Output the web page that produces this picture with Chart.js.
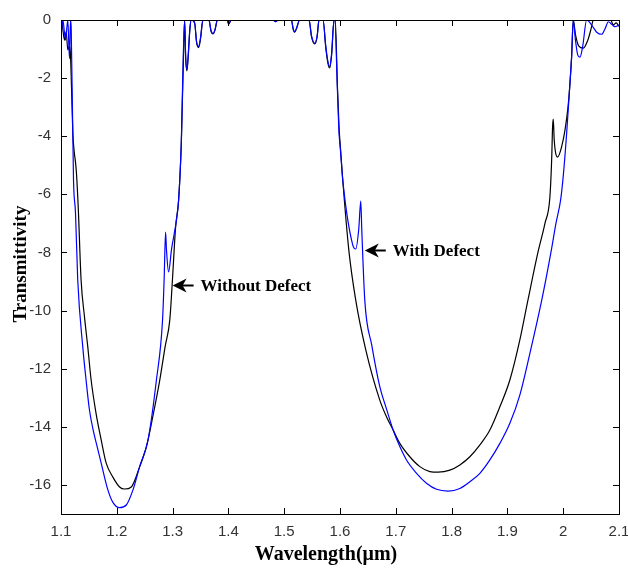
<!DOCTYPE html>
<html>
<head>
<meta charset="utf-8">
<script src="https://cdn.jsdelivr.net/npm/chart.js@4"></script>
<style>
  html, body { margin: 0; background: #fff; }
  #wrap { width: 628px; height: 570px; position: relative; }
</style>
</head>
<body>
<div id="wrap"><canvas id="chart"></canvas></div>
<script>
// Transmittivity spectra, [wavelength (um), transmittivity]
const withoutDefect = [
  [1.100,0],[1.1025,-0.2],[1.1063,-0.69],[1.1093,-0.4],[1.1122,-1.03],[1.1152,-0.9],[1.117,-1.2],
  [1.1188,-2.3],[1.1212,-3.9],[1.1235,-4.5],[1.126,-4.9],[1.1278,-5.3],[1.131,-6.5],[1.136,-8.95],
  [1.142,-10.2],[1.148,-11.25],[1.154,-12.39],[1.1625,-13.5],[1.172,-14.45],[1.181,-15.25],
  [1.193,-15.73],[1.205,-16.07],[1.214,-16.14],[1.226,-16.07],[1.241,-15.37],[1.253,-14.69],
  [1.265,-13.6],[1.277,-12.39],[1.287,-11.2],[1.295,-10.32],[1.300,-8.85],[1.3054,-7.12],
  [1.3108,-6.19],[1.3156,-4.23],[1.3175,-2.8],[1.3195,-1.3],[1.3215,0],[1.3235,-1.35],
  [1.3257,-1.75],[1.328,-1.25],[1.331,-0.3],[1.3335,0],[1.3395,-0.1],[1.343,-0.78],[1.3466,-0.95],
  [1.350,-0.65],[1.3544,0],[1.3651,0],[1.369,-0.4],[1.3723,-0.48],[1.376,-0.35],[1.3802,0],
  [1.3981,0],[1.4005,-0.14],[1.405,0],[1.480,0],[1.4848,-0.06],[1.489,0],[1.5129,0],[1.516,-0.3],
  [1.5188,-0.42],[1.522,-0.3],[1.5278,0],[1.5445,0],[1.549,-0.58],[1.5547,-0.82],[1.559,-0.58],
  [1.5624,0],[1.5696,0],[1.5745,-0.95],[1.5785,-1.5],[1.5816,-1.65],[1.585,-1.2],[1.5893,0],
  [1.5915,0],[1.5954,-2.3],[1.5983,-3.7],[1.6008,-4.4],[1.6049,-5.5],[1.6157,-7.9],[1.6282,-9.64],
  [1.6462,-11.35],[1.6713,-13.08],[1.6833,-13.65],[1.6952,-14.11],[1.7072,-14.57],[1.7251,-15.03],
  [1.7431,-15.37],[1.761,-15.54],[1.7759,-15.56],[1.7968,-15.49],[1.8148,-15.31],[1.8327,-15.03],
  [1.8507,-14.62],[1.8686,-14.11],[1.8865,-13.31],[1.9044,-12.39],[1.9224,-11.0],[1.9368,-9.64],
  [1.9547,-8.0],[1.9673,-7.0],[1.9762,-6.08],[1.9793,-4.82],[1.981,-3.67],[1.9822,-3.41],
  [1.9839,-4.13],[1.990,-4.72],[1.9972,-4.36],[2.0032,-3.79],[2.0086,-3.0],[2.0121,-2.18],
  [2.0151,-1.26],[2.018,0],[2.022,-0.5],[2.028,-0.9],[2.036,-0.97],[2.044,-0.7],[2.050,-0.3],
  [2.054,0],[2.085,0],[2.0898,-0.17],[2.095,-0.1],[2.100,-0.22]
];

const withDefect = [
  [1.100,-0.1],[1.1004,-0.46],[1.1033,0],[1.1081,-0.69],[1.1122,0],[1.1152,-1.33],[1.117,0],
  [1.1183,-0.3],[1.1224,-5.5],[1.126,-6.64],[1.130,-8.95],[1.139,-11.25],[1.145,-12.4],
  [1.151,-13.42],[1.157,-14.05],[1.165,-14.7],[1.172,-15.25],[1.184,-16.17],[1.193,-16.6],
  [1.205,-16.78],[1.217,-16.69],[1.229,-16.17],[1.241,-15.37],[1.256,-14.45],[1.271,-12.39],
  [1.282,-10.32],[1.2848,-8.95],[1.2874,-7.3],[1.289,-7.9],[1.2928,-8.67],[1.298,-7.9],
  [1.307,-6.88],[1.3108,-6.19],[1.3156,-4.23],[1.3167,-3.33],[1.3215,0],[1.3235,-1.3],
  [1.3257,-1.7],[1.328,-1.2],[1.331,-0.3],[1.3335,0],[1.3395,-0.1],[1.343,-0.75],[1.3466,-0.92],
  [1.350,-0.62],[1.3544,0],[1.3651,0],[1.369,-0.38],[1.3723,-0.46],[1.376,-0.33],[1.3802,0],
  [1.3981,0],[1.4005,-0.14],[1.405,0],[1.480,0],[1.4848,-0.06],[1.489,0],[1.5129,0],[1.516,-0.3],
  [1.5188,-0.4],[1.522,-0.28],[1.5278,0],[1.5445,0],[1.549,-0.55],[1.5547,-0.8],[1.559,-0.55],
  [1.5624,0],[1.5696,0],[1.5745,-0.9],[1.5785,-1.45],[1.5816,-1.6],[1.585,-1.15],[1.5893,0],
  [1.5906,0],[1.5954,-2.41],[1.5983,-3.9],[1.6008,-4.47],[1.6049,-5.5],[1.6228,-7.74],
  [1.6282,-7.88],[1.6336,-7.2],[1.6372,-6.23],[1.639,-7.2],[1.6444,-9.64],[1.657,-11.2],
  [1.6713,-12.62],[1.6833,-13.38],[1.6952,-14.11],[1.7072,-14.68],[1.7192,-15.14],
  [1.7372,-15.6],[1.755,-15.94],[1.773,-16.15],[1.7938,-16.21],[1.8148,-16.12],[1.8327,-15.89],
  [1.8507,-15.6],[1.8686,-15.14],[1.8865,-14.57],[1.9044,-13.88],[1.9224,-12.9],[1.940,-11.5],
  [1.962,-9.6],[1.978,-8.0],[1.987,-7.0],[1.9954,-6.19],[2.0,-5.39],[2.0062,-3.9],[2.0121,-2.18],
  [2.0151,-1.26],[2.018,0],[2.022,-0.7],[2.026,-1.2],[2.030,-1.28],[2.035,-0.9],[2.042,0],
  [2.052,-0.2],[2.060,-0.42],[2.069,-0.49],[2.075,-0.3],[2.081,-0.06],[2.087,-0.15],
  [2.0928,-0.23],[2.100,-0.17]
];

// axes
const xTicks = [1.1, 1.2, 1.3, 1.4, 1.5, 1.6, 1.7, 1.8, 1.9, 2.0, 2.1];
const xTickLabels = ['1.1', '1.2', '1.3', '1.4', '1.5', '1.6', '1.7', '1.8', '1.9', '2', '2.1'];
const yTicks = [0, -2, -4, -6, -8, -10, -12, -14, -16];
const yTickLabels = ['0', '-2', '-4', '-6', '-8', '-10', '-12', '-14', '-16'];
const xTitle = 'Wavelength(\u03bcm)';
const yTitle = 'Transmittivity';

// arrow annotations: label, point the arrow touches
const noteLabels = ['Without Defect', 'With Defect'];
const noteX = [1.300, 1.6444];
const noteY = [-9.12, -7.91];

const toXY = pts => pts.map(p => ({ x: p[0], y: p[1] }));

// box, inward tick marks, titles and arrows
const framePlugin = {
    id: 'frame',
    afterDraw(chart) {
        const { ctx, chartArea: a } = chart;
        const xs = chart.scales.x;
        const ys = chart.scales.y;
        const len = 6;

        ctx.save();
        ctx.strokeStyle = '#000';
        ctx.lineWidth = 1;
        ctx.strokeRect(a.left + 0.5, a.top + 0.5, a.right - a.left, a.bottom - a.top);

        ctx.beginPath();
        xTicks.forEach(v => {
            const px = Math.round(xs.getPixelForValue(v)) + 0.5;
            ctx.moveTo(px, a.bottom); ctx.lineTo(px, a.bottom - len);
            ctx.moveTo(px, a.top); ctx.lineTo(px, a.top + len);
        });
        yTicks.forEach(v => {
            const py = Math.round(ys.getPixelForValue(v)) + 0.5;
            ctx.moveTo(a.left, py); ctx.lineTo(a.left + len, py);
            ctx.moveTo(a.right, py); ctx.lineTo(a.right - len, py);
        });
        ctx.stroke();

        // axis titles
        ctx.fillStyle = '#000';
        ctx.font = 'bold 20px "Liberation Serif", "Times New Roman", serif';
        ctx.textAlign = 'center';
        ctx.textBaseline = 'middle';
        ctx.fillText(xTitle, (a.left + a.right) / 2 - 14, 555);

        ctx.save();
        ctx.translate(21, (a.top + a.bottom) / 2 - 3);
        ctx.rotate(-Math.PI / 2);
        ctx.font = 'bold 19px "Liberation Serif", "Times New Roman", serif';
        ctx.fillText(yTitle, 0, 0);
        ctx.restore();

        // arrows with labels
        ctx.font = 'bold 17px "Liberation Serif", "Times New Roman", serif';
        ctx.textAlign = 'left';
        noteLabels.forEach((label, i) => {
            const tx = xs.getPixelForValue(noteX[i]);
            const ty = Math.round(ys.getPixelForValue(noteY[i])) + 0.5;
            ctx.beginPath();
            ctx.moveTo(tx, ty);
            ctx.lineTo(tx + 14, ty - 7);
            ctx.lineTo(tx + 10, ty);
            ctx.lineTo(tx + 14, ty + 7);
            ctx.closePath();
            ctx.fill();
            ctx.lineWidth = 2;
            ctx.beginPath();
            ctx.moveTo(tx + 6, ty);
            ctx.lineTo(tx + 21, ty);
            ctx.stroke();
            ctx.fillText(label, tx + 28, ty + 1);
        });
        ctx.restore();
    }
};

const tickFont = { family: '"Liberation Sans", Arial, sans-serif', size: 15 };

new Chart(document.getElementById('chart'), {
    type: 'line',
    data: {
        datasets: [{
            label: 'With Defect',
            data: toXY(withDefect),
            borderColor: '#0000ff',
            borderWidth: 1.2,
            pointRadius: 0,
            cubicInterpolationMode: 'monotone',
            fill: false
        }, {
            label: 'Without Defect',
            data: toXY(withoutDefect),
            borderColor: '#000000',
            borderWidth: 1.2,
            pointRadius: 0,
            cubicInterpolationMode: 'monotone',
            fill: false
        }]
    },
    options: {
        responsive: true,
        maintainAspectRatio: false,
        animation: false,
        devicePixelRatio: 1,
        layout: { padding: { top: 20, right: 9, left: 0, bottom: 0 } },
        plugins: {
            legend: { display: false },
            tooltip: { enabled: false }
        },
        scales: {
            x: {
                type: 'linear',
                min: 1.1,
                max: 2.1,
                grid: { display: false, drawTicks: false },
                border: { display: false },
                afterBuildTicks: axis => { axis.ticks = xTicks.map(v => ({ value: v })); },
                afterFit: axis => { axis.height = 56; axis.paddingLeft = 0; axis.paddingRight = 0; },
                ticks: {
                    autoSkip: false,
                    maxRotation: 0,
                    padding: 9,
                    color: '#333',
                    font: tickFont,
                    callback: (value, index) => xTickLabels[index]
                }
            },
            y: {
                type: 'linear',
                min: -17,
                max: 0,
                grid: { display: false, drawTicks: false },
                border: { display: false },
                afterBuildTicks: axis => { axis.ticks = yTicks.map(v => ({ value: v })); },
                afterFit: axis => { axis.width = 61; axis.paddingTop = 0; axis.paddingBottom = 0; },
                ticks: {
                    autoSkip: false,
                    padding: 10,
                    color: '#333',
                    font: tickFont,
                    callback: (value, index) => yTickLabels[index]
                }
            }
        }
    },
    plugins: [framePlugin]
});
</script>
</body>
</html>
